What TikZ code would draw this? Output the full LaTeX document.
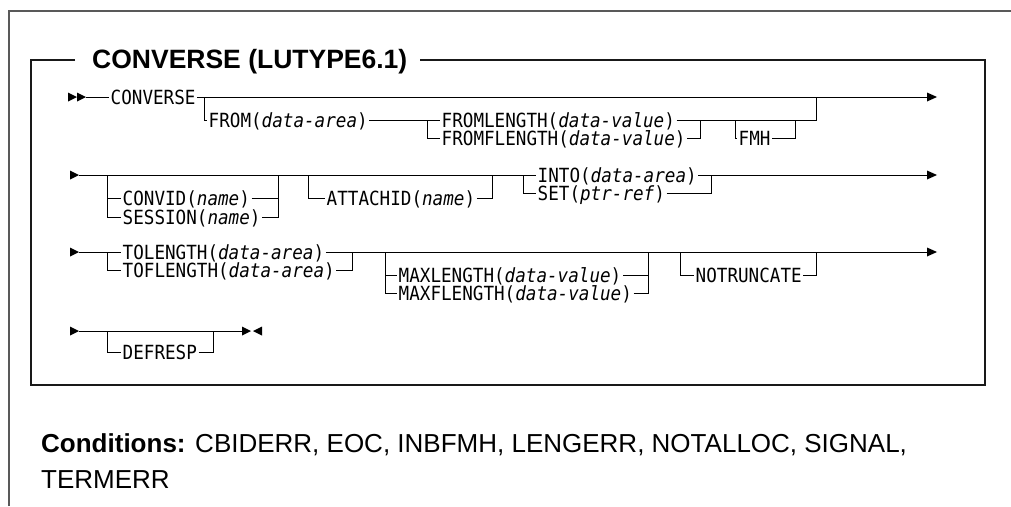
\documentclass[tikz,border=0pt]{standalone}
\usepackage{fontspec}
\setmainfont{Liberation Sans}
\newfontfamily\rrmono[FakeStretch=0.903]{DejaVu Sans Mono}
\begin{document}
\begin{tikzpicture}[x=1pt,y=-1pt,
  rr/.style={line width=1pt,black},
  kw/.style={font=\rrmono\fontsize{19.5}{21}\selectfont,inner xsep=1.5pt,inner ysep=0pt,anchor=west,text height=15.5pt,text depth=0pt},
  cond/.style={font=\fontsize{26}{30}\selectfont,anchor=base west,inner sep=0pt},
  frameline/.style={line width=2pt,black!65},
  boxline/.style={line width=1.6pt,black!90}
]
\useasboundingbox (0,0) rectangle (1011,506);
% outer frame
\coordinate (oa) at (9,506);
\coordinate (ob) at (9,11);
\coordinate (oc) at (1011,11);
\draw[frameline] (oa) -- (ob) -- (oc);
% title and inner box
\node[font=\bfseries\fontsize{26.5}{30}\selectfont,anchor=base west,inner sep=0pt] (title) at (92,68) {CONVERSE (LUTYPE6.1)};
\coordinate (tl) at (75,60);
\coordinate (tr) at (420,60);
\coordinate (b1) at (31,60);
\coordinate (b2) at (31,385);
\coordinate (b3) at (985,385);
\coordinate (b4) at (985,60);
\draw[boxline] (tl) -- (b1) -- (b2) -- (b3) -- (b4) -- (tr);

% ---------- row 1 ----------
\fill (77,97) -- (68,92.5) -- (68,101.5) -- cycle;
\fill (86,97) -- (77,92.5) -- (77,101.5) -- cycle;
\coordinate (s1) at (86,97);
\coordinate (e1) at (927,97);
\fill (937,97) -- (927,92.5) -- (927,101.5) -- cycle;
\node[kw] (converse) at (109,97) {CONVERSE};
\draw[rr] (s1) -- (converse.west);
\draw[rr] (converse.east) -- (e1);
\node[kw] (from) at (207,120) {FROM(\textit{data-area})};
\node[kw] (froml) at (440,120) {FROMLENGTH(\textit{data-value})};
\node[kw] (fromfl) at (440,138) {FROMFLENGTH(\textit{data-value})};
\node[kw] (fmh) at (737,138) {FMH};
\coordinate (r1a) at (204,97);
\coordinate (r1b) at (204,120);
\coordinate (r1c) at (427,120);
\coordinate (r1d) at (427,138);
\coordinate (r1e) at (700,138);
\coordinate (r1f) at (700,120);
\coordinate (r1g) at (735,120);
\coordinate (r1h) at (735,138);
\coordinate (r1i) at (795,138);
\coordinate (r1j) at (795,120);
\coordinate (r1k) at (816,120);
\coordinate (r1l) at (816,97);
\draw[rr] (r1a) -- (r1b) -- (from.west);
\draw[rr] (from.east) -- (froml.west);
\draw[rr] (r1c) -- (r1d) -- (fromfl.west);
\draw[rr] (froml.east) -- (r1k) -- (r1l);
\draw[rr] (fromfl.east) -- (r1e) -- (r1f);
\draw[rr] (r1g) -- (r1h) -- (fmh.west);
\draw[rr] (fmh.east) -- (r1i) -- (r1j);

% ---------- row 2 ----------
\fill (79,175) -- (70,170.5) -- (70,179.5) -- cycle;
\coordinate (s2) at (79,175);
\coordinate (e2) at (927,175);
\fill (937,175) -- (927,170.5) -- (927,179.5) -- cycle;
\node[kw] (convid) at (121,198) {CONVID(\textit{name})};
\node[kw] (session) at (121,217) {SESSION(\textit{name})};
\node[kw] (attach) at (325,198) {ATTACHID(\textit{name})};
\node[kw] (into) at (536,175) {INTO(\textit{data-area})};
\node[kw] (set) at (536,193) {SET(\textit{ptr-ref})};
\draw[rr] (s2) -- (into.west);
\draw[rr] (into.east) -- (e2);
\coordinate (r2a) at (107,175);
\coordinate (r2b) at (107,198);
\coordinate (r2c) at (107,217);
\coordinate (r2d) at (278,198);
\coordinate (r2e) at (278,217);
\coordinate (r2f) at (278,175);
\draw[rr] (r2a) -- (r2c) -- (session.west);
\draw[rr] (r2b) -- (convid.west);
\draw[rr] (convid.east) -- (r2d);
\draw[rr] (session.east) -- (r2e) -- (r2f);
\coordinate (r2g) at (308,175);
\coordinate (r2h) at (308,198);
\coordinate (r2i) at (492,198);
\coordinate (r2j) at (492,175);
\draw[rr] (r2g) -- (r2h) -- (attach.west);
\draw[rr] (attach.east) -- (r2i) -- (r2j);
\coordinate (r2k) at (523,175);
\coordinate (r2l) at (523,193);
\coordinate (r2m) at (711,193);
\coordinate (r2n) at (711,175);
\draw[rr] (r2k) -- (r2l) -- (set.west);
\draw[rr] (set.east) -- (r2m) -- (r2n);

% ---------- row 3 ----------
\fill (79,252) -- (70,247.5) -- (70,256.5) -- cycle;
\coordinate (s3) at (79,252);
\coordinate (e3) at (927,252);
\fill (937,252) -- (927,247.5) -- (927,256.5) -- cycle;
\node[kw] (tol) at (121,252) {TOLENGTH(\textit{data-area})};
\node[kw] (tofl) at (121,270) {TOFLENGTH(\textit{data-area})};
\node[kw] (maxl) at (397,275) {MAXLENGTH(\textit{data-value})};
\node[kw] (maxfl) at (397,293) {MAXFLENGTH(\textit{data-value})};
\node[kw] (notr) at (694,275) {NOTRUNCATE};
\draw[rr] (s3) -- (tol.west);
\draw[rr] (tol.east) -- (e3);
\coordinate (r3a) at (107,252);
\coordinate (r3b) at (107,270);
\coordinate (r3c) at (352,270);
\coordinate (r3d) at (352,252);
\draw[rr] (r3a) -- (r3b) -- (tofl.west);
\draw[rr] (tofl.east) -- (r3c) -- (r3d);
\coordinate (r3e) at (385,252);
\coordinate (r3f) at (385,275);
\coordinate (r3g) at (385,293);
\coordinate (r3h) at (648,275);
\coordinate (r3i) at (648,293);
\coordinate (r3j) at (648,252);
\draw[rr] (r3e) -- (r3g) -- (maxfl.west);
\draw[rr] (r3f) -- (maxl.west);
\draw[rr] (maxl.east) -- (r3h);
\draw[rr] (maxfl.east) -- (r3i) -- (r3j);
\coordinate (r3k) at (680,252);
\coordinate (r3l) at (680,275);
\coordinate (r3m) at (816,275);
\coordinate (r3n) at (816,252);
\draw[rr] (r3k) -- (r3l) -- (notr.west);
\draw[rr] (notr.east) -- (r3m) -- (r3n);

% ---------- row 4 ----------
\fill (79,331) -- (70,326.5) -- (70,335.5) -- cycle;
\coordinate (s4) at (79,331);
\coordinate (e4) at (242,331);
\fill (251,331) -- (242,326.5) -- (242,335.5) -- cycle;
\fill (253,331) -- (262,326.5) -- (262,335.5) -- cycle;
\draw[rr] (s4) -- (e4);
\node[kw] (defresp) at (121,352) {DEFRESP};
\coordinate (r4a) at (107,331);
\coordinate (r4b) at (107,352);
\coordinate (r4c) at (213,352);
\coordinate (r4d) at (213,331);
\draw[rr] (r4a) -- (r4b) -- (defresp.west);
\draw[rr] (defresp.east) -- (r4c) -- (r4d);

% ---------- conditions ----------
\node[cond] (cond1) at (41,452) {\textbf{Conditions:} CBIDERR, EOC, INBFMH, LENGERR, NOTALLOC, SIGNAL,};
\node[cond] (cond2) at (41,488) {TERMERR};
\end{tikzpicture}
\end{document}
